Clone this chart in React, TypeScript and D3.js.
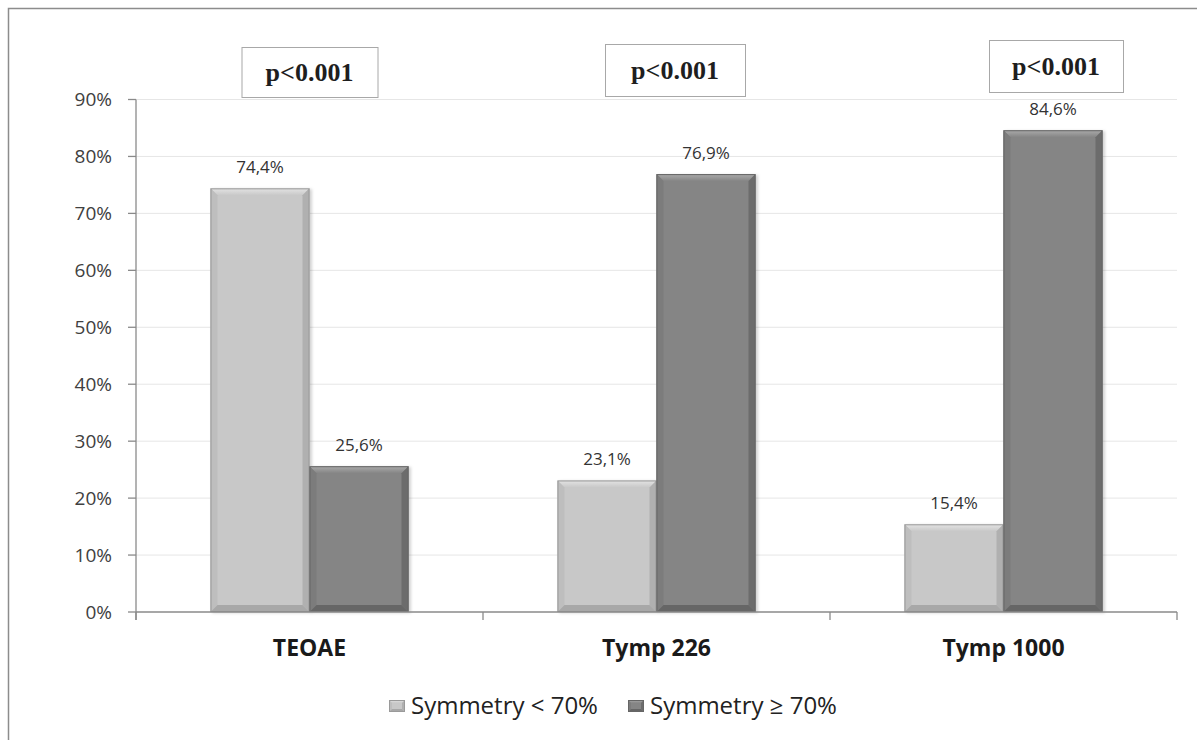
import React from "react";
import * as d3 from "d3";

const categories = ["TEOAE", "Tymp 226", "Tymp 1000"];
const seriesNames = ["Symmetry < 70%", "Symmetry \u2265 70%"];
const symLow = [74.4, 23.1, 15.4];
const symHigh = [25.6, 76.9, 84.6];
const yTicks = [0, 10, 20, 30, 40, 50, 60, 70, 80, 90];
const pLabels = ["p<0.001", "p<0.001", "p<0.001"];

const W = 1197;
const H = 740;
const plot = { left: 136, right: 1177, top: 99.5, bottom: 612 };
// p-box layout (offset from category centre, top edge)
const pBoxLayout = [
  { dx: 0, top: 47, w: 136, h: 50 },
  { dx: 18.5, top: 44, w: 140, h: 52 },
  { dx: 52.5, top: 40, w: 134, h: 52 },
];

const styles = [
  { face: "#c8c8c8", hi: "#e4e4e4", left: "#bebebe", right: "#b0b0b0", bottom: "#a8a8a8", stroke: "#9a9a9a" },
  { face: "#858585", hi: "#ababab", left: "#7c7c7c", right: "#6c6c6c", bottom: "#666666", stroke: "#666666" },
];

function Bevel({ x, y, w, h, s, b = 7, id }: any) {
  const bb = Math.min(b, h / 2, w / 2);
  return (
    <g>
      <rect x={x} y={y} width={w} height={h} fill={s.face} />
      <polygon
        points={`${x},${y} ${x + w},${y} ${x + w - bb},${y + bb} ${x + bb},${y + bb}`}
        fill={`url(#top${id})`}
      />
      <polygon
        points={`${x},${y} ${x + bb},${y + bb} ${x + bb},${y + h - bb} ${x},${y + h}`}
        fill={s.left}
      />
      <polygon
        points={`${x + w},${y} ${x + w - bb},${y + bb} ${x + w - bb},${y + h - bb} ${x + w},${y + h}`}
        fill={s.right}
      />
      <polygon
        points={`${x},${y + h} ${x + bb},${y + h - bb} ${x + w - bb},${y + h - bb} ${x + w},${y + h}`}
        fill={s.bottom}
      />
      <rect x={x + 0.5} y={y + 0.5} width={w - 1} height={h - 1} fill="none" stroke={s.stroke} strokeWidth={1} />
    </g>
  );
}

export default function App() {
  const x0 = d3.scaleBand<string>().domain(categories).range([plot.left, plot.right]).paddingInner(0).paddingOuter(0);
  const x1 = d3.scaleBand<number>().domain([0, 1]).range([-99, 99]);
  const barW = x1.bandwidth();
  const y = d3.scaleLinear().domain([0, 90]).range([plot.bottom, plot.top]);
  const series = [symLow, symHigh];
  const sans = "'Open Sans', 'Noto Sans', sans-serif";

  return (
    <svg
      width={W}
      height={H}
      style={{ position: "absolute", left: 0, top: 0, background: "#fff" }}
      fontFamily={sans}
    >
      <defs>
        {styles.map((s, i) => (
          <linearGradient key={i} id={`top${i}`} x1="0" y1="0" x2="0" y2="1">
            <stop offset="0" stopColor={s.hi} />
            <stop offset="1" stopColor={s.face} />
          </linearGradient>
        ))}
        <filter id="shadow" x="-10%" y="-10%" width="130%" height="130%">
          <feDropShadow dx="2" dy="1" stdDeviation="1.5" floodColor="#000" floodOpacity="0.18" />
        </filter>
      </defs>
      <rect x={8.5} y={8.5} width={1300} height={900} fill="#fff" stroke="#8c8c8c" strokeWidth={1.5} />

      {/* gridlines */}
      {yTicks.slice(1).map((t) => (
        <line key={t} x1={plot.left} x2={plot.right} y1={y(t)} y2={y(t)} stroke="#e6e6e6" strokeWidth={1} />
      ))}

      {/* bars */}
      {categories.map((c, ci) => {
        const cx = (x0(c) as number) + x0.bandwidth() / 2;
        return series.map((vals, si) => {
          const bx = cx + (x1(si) as number);
          const by = y(vals[ci]);
          const bh = y(0) - by;
          return (
            <g key={`${c}-${si}`} filter="url(#shadow)">
              <Bevel x={bx} y={by} w={barW} h={bh} s={styles[si]} id={si} />
            </g>
          );
        });
      })}

      {/* value labels */}
      {categories.map((c, ci) => {
        const cx = (x0(c) as number) + x0.bandwidth() / 2;
        return series.map((vals, si) => (
          <text
            key={`l-${c}-${si}`}
            x={cx + (x1(si) as number) + barW / 2}
            y={y(vals[ci]) - 15}
            textAnchor="middle"
            fontSize={17}
            fill="#333"
          >
            {vals[ci].toFixed(1).replace(".", ",")}%
          </text>
        ));
      })}

      {/* axes */}
      <line x1={plot.left} x2={plot.left} y1={plot.top} y2={plot.bottom + 8} stroke="#8a8a8a" strokeWidth={1.3} />
      <line x1={plot.left} x2={plot.right} y1={plot.bottom} y2={plot.bottom} stroke="#8a8a8a" strokeWidth={1.3} />
      {yTicks.map((t) => (
        <g key={`yt${t}`}>
          <line x1={plot.left - 8} x2={plot.left} y1={y(t)} y2={y(t)} stroke="#8a8a8a" strokeWidth={1.3} />
          <text x={112} y={y(t)} dy="0.35em" textAnchor="end" fontSize={19} fill="#404040">
            {t}%
          </text>
        </g>
      ))}
      {[...categories.map((c) => x0(c) as number), plot.right].map((xv, i) => (
        <line key={`xt${i}`} x1={xv} x2={xv} y1={plot.bottom} y2={plot.bottom + 8} stroke="#8a8a8a" strokeWidth={1.3} />
      ))}
      {categories.map((c) => (
        <text
          key={`cl${c}`}
          x={(x0(c) as number) + x0.bandwidth() / 2}
          y={656}
          textAnchor="middle"
          fontSize={23}
          fontWeight="bold"
          fill="#1a1a1a"
        >
          {c}
        </text>
      ))}

      {/* p-value boxes */}
      {categories.map((c, ci) => {
        const L = pBoxLayout[ci];
        const cx = (x0(c) as number) + x0.bandwidth() / 2 + L.dx;
        return (
          <g key={`p${c}`}>
            <rect x={cx - L.w / 2 + 0.5} y={L.top + 0.5} width={L.w} height={L.h} fill="#fff" stroke="#a8a8a8" strokeWidth={1} />
            <text
              x={cx}
              y={L.top + L.h / 2}
              dy="0.35em"
              textAnchor="middle"
              fontFamily="'Liberation Serif', 'DejaVu Serif', serif"
              fontWeight="bold"
              fontSize={26}
              fill="#1e1e1e"
            >
              {pLabels[ci]}
            </text>
          </g>
        );
      })}

      {/* legend */}
      {seriesNames.map((n, i) => {
        const lx = [389, 628][i];
        return (
          <g key={`lg${i}`}>
            <Bevel x={lx} y={700} w={16} h={12} s={styles[i]} b={3} id={i} />
            <text x={lx + 22} y={706} dy="0.35em" fontSize={24} fill="#222">
              {n}
            </text>
          </g>
        );
      })}
    </svg>
  );
}
